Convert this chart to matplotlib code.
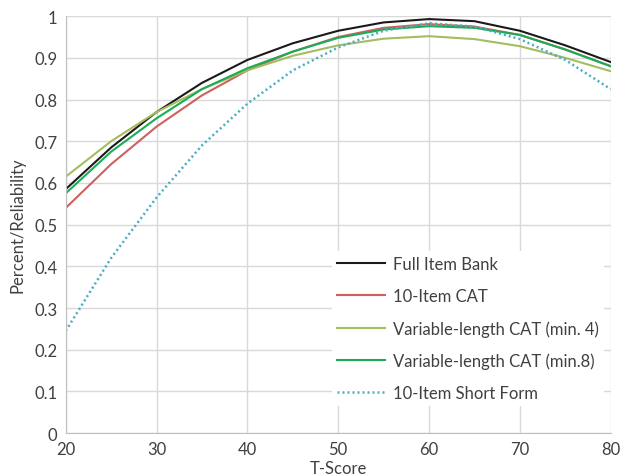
import matplotlib.pyplot as plt

plt.rcParams['font.family'] = ['Lato', 'DejaVu Sans']

t_score = [20, 25, 30, 35, 40, 45, 50, 55, 60, 65, 70, 75, 80]
full_bank = [0.585, 0.685, 0.77, 0.84, 0.895, 0.935, 0.965, 0.985, 0.993, 0.988, 0.965, 0.93, 0.89]
cat_10 = [0.54, 0.645, 0.735, 0.81, 0.87, 0.915, 0.95, 0.972, 0.981, 0.975, 0.955, 0.92, 0.88]
var_min4 = [0.615, 0.70, 0.77, 0.825, 0.87, 0.905, 0.93, 0.946, 0.952, 0.945, 0.928, 0.90, 0.868]
var_min8 = [0.575, 0.675, 0.755, 0.825, 0.875, 0.915, 0.948, 0.968, 0.976, 0.972, 0.955, 0.92, 0.88]
short_form = [0.245, 0.42, 0.565, 0.69, 0.79, 0.87, 0.925, 0.965, 0.983, 0.975, 0.945, 0.895, 0.825]

fig = plt.figure(figsize=(6.2, 4.77), dpi=100)
ax = fig.add_axes([0.106, 0.090, 0.879, 0.874])

ax.plot(t_score, full_bank, color='#1a1a1a', lw=1.5, label='Full Item Bank')
ax.plot(t_score, cat_10, color='#d0605e', lw=1.5, label='10-Item CAT')
ax.plot(t_score, var_min4, color='#a3bd5f', lw=1.5, label='Variable-length CAT (min. 4)')
ax.plot(t_score, var_min8, color='#1aad55', lw=1.5, label='Variable-length CAT (min.8)')
ax.plot(t_score, short_form, color='#4bacc6', lw=1.8, ls=(0, (0.8, 1.2)), label='10-Item Short Form')

ax.set_xlim(20, 80)
ax.set_ylim(0, 1)
ax.set_xticks(range(20, 81, 10))
ax.set_yticks([i / 10 for i in range(11)])
ax.set_yticklabels(['0', '0.1', '0.2', '0.3', '0.4', '0.5', '0.6', '0.7', '0.8', '0.9', '1'])
ax.grid(True, color='#d9d9d9', lw=1)
ax.set_axisbelow(True)
for s in ['top', 'right']:
    ax.spines[s].set_visible(False)
for s in ['left', 'bottom']:
    ax.spines[s].set_color('#bfbfbf')
ax.tick_params(length=0, labelsize=12, colors='#404040', pad=6)
ax.set_xlabel('T-Score', fontsize=12, color='#404040', labelpad=2)
ax.set_ylabel('Percent/Reliability', fontsize=12, color='#404040', labelpad=6)

leg = ax.legend(loc='upper left', bbox_to_anchor=(0.488, 0.436), frameon=True,
                facecolor='white', edgecolor='none', framealpha=1, fontsize=12,
                handlelength=2.9, labelspacing=0.95, handletextpad=0.5,
                borderpad=0.3, borderaxespad=0)
for txt in leg.get_texts():
    txt.set_color('#404040')

fig.savefig('out.png', dpi=100)
